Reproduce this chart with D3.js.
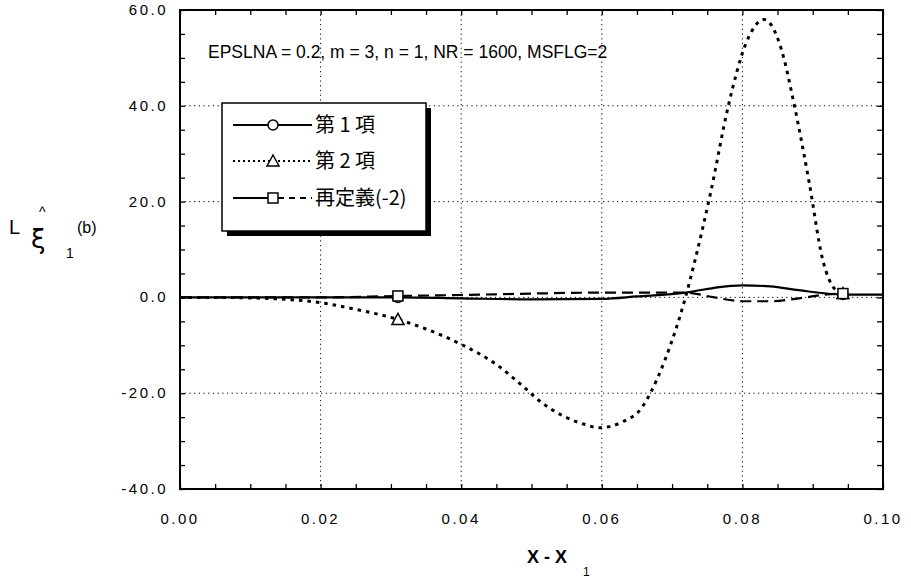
<!DOCTYPE html>
<html>
<head>
<meta charset="utf-8">
<script src="https://cdn.jsdelivr.net/npm/d3@7"></script>
<style>
  body { margin: 0; background: #fff; }
  svg { display: block; }
  text { fill: #000; }
</style>
</head>
<body>
<div id="graph"></div>
<script>

//----------------------------------------------------------
// data

var g_title = "EPSLNA = 0.2, m = 3, n = 1, NR = 1600, MSFLG=2";

var g_x_ticks = [0.00, 0.02, 0.04, 0.06, 0.08, 0.10];
var g_y_ticks = [-40, -20, 0, 20, 40, 60];

// x positions that carry a marker
var g_marker_x = [0.031, 0.0943];

// 第1項 (solid, circle)
var g_term1_x = [0, 0.02, 0.031, 0.04, 0.05, 0.06, 0.065, 0.0719, 0.076, 0.080, 0.084, 0.088, 0.0943, 0.1];
var g_term1_y = [0, 0, 0, -0.2, -0.4, -0.3, 0.2, 1.0, 2.0, 2.5, 2.3, 1.5, 0.6, 0.6];

// 第2項 (dotted, triangle)
var g_term2_x = [0, 0.005, 0.01, 0.015, 0.02, 0.025, 0.031, 0.035, 0.04, 0.045, 0.0486, 0.0514, 0.0543,
                 0.0571, 0.0597, 0.0629, 0.0657, 0.0669, 0.069, 0.0719, 0.0733, 0.0755, 0.078, 0.0805,
                 0.0831, 0.0855, 0.0874, 0.0895, 0.0914, 0.0933, 0.0943];
var g_term2_y = [0, 0, -0.1, -0.4, -1.1, -2.5, -4.6, -6.6, -9.8, -14, -18.3, -21.9, -24.6,
                 -26.3, -27.2, -26, -23, -20, -13, 0, 8, 22, 40, 53,
                 58, 52, 40, 24, 8, 1.5, 0.8];

// 再定義(-2) (long dash, square)
var g_redef_x = [0, 0.02, 0.031, 0.04, 0.05, 0.06, 0.0719, 0.076, 0.080, 0.084, 0.088, 0.092, 0.0943];
var g_redef_y = [0, 0, 0.3, 0.5, 0.8, 1.0, 1.0, 0.0, -0.8, -0.8, -0.2, 0.6, 0.8];


//----------------------------------------------------------
var g_width = 911, g_height = 579;

var g_svg = d3.select("#graph")
  .append("svg")
    .attr("width", g_width)
    .attr("height", g_height);

var g_x = d3.scaleLinear().domain([0, 0.1]).range([180, 883]);
var g_y = d3.scaleLinear().domain([-40, 60]).range([489, 10]);

var g_font = "'Liberation Sans', Arial, sans-serif";
var g_cjk = "'Noto Sans CJK JP', sans-serif";


function Zip(xs, ys) {
    return xs.map(function (x, i) { return [x, ys[i]]; });
}

function MarkerPoints(xs, ys) {
    return g_marker_x.map(function (mx) {
        var i = xs.indexOf(mx);
        return [mx, ys[i]];
    });
}

// plain hyphen for negatives, as on the original
function Fmt(spec) {
    var f = d3.format(spec);
    return function (d) { return f(d).replace("\u2212", "-"); };
}


//----------------------------------------------------------
// grid lines (dotted)
function DrawGrid() {
    var grid = g_svg.append("g")
        .attr("stroke", "#000")
        .attr("stroke-width", 1)
        .attr("stroke-dasharray", "1.2,3.5");

    grid.selectAll("line.gx")
      .data(g_x_ticks.slice(1, -1))
      .join("line")
        .attr("class", "gx")
        .attr("x1", function (d) { return g_x(d); })
        .attr("x2", function (d) { return g_x(d); })
        .attr("y1", g_y(60))
        .attr("y2", g_y(-40));

    grid.selectAll("line.gy")
      .data(g_y_ticks.slice(1, -1))
      .join("line")
        .attr("class", "gy")
        .attr("x1", g_x(0))
        .attr("x2", g_x(0.1))
        .attr("y1", function (d) { return g_y(d); })
        .attr("y2", function (d) { return g_y(d); });
}


//----------------------------------------------------------
// frame with inward ticks on all four sides
function DrawAxes() {
    var x_minor = d3.range(0, 21).map(function (i) { return i * 0.005; });
    var y_minor = d3.range(-40, 61, 5);

    var bottom = g_svg.append("g")
        .attr("transform", "translate(0," + g_y(-40) + ")")
        .call(d3.axisBottom(g_x).tickValues(x_minor).tickSize(-5).tickFormat(""));
    var top = g_svg.append("g")
        .attr("transform", "translate(0," + g_y(60) + ")")
        .call(d3.axisTop(g_x).tickValues(x_minor).tickSize(-5).tickFormat(""));
    var left = g_svg.append("g")
        .attr("transform", "translate(" + g_x(0) + ",0)")
        .call(d3.axisLeft(g_y).tickValues(y_minor).tickSize(-5).tickFormat(""));
    var right = g_svg.append("g")
        .attr("transform", "translate(" + g_x(0.1) + ",0)")
        .call(d3.axisRight(g_y).tickValues(y_minor).tickSize(-6).tickFormat(""));

    [bottom, top, left, right].forEach(function (a) {
        a.select(".domain").remove();
        a.selectAll("line").attr("stroke", "#000").attr("stroke-width", 1.3);
    });

    // tick labels
    var fx = Fmt(".2f"), fy = Fmt(".1f");

    g_svg.append("g")
      .selectAll("text")
      .data(g_x_ticks)
      .join("text")
        .attr("x", function (d) { return g_x(d); })
        .attr("y", 524)
        .attr("text-anchor", "middle")
        .attr("font-family", g_font)
        .attr("font-size", 15)
        .attr("letter-spacing", 2.5)
        .text(fx);

    g_svg.append("g")
      .selectAll("text")
      .data(g_y_ticks)
      .join("text")
        .attr("x", 168)
        .attr("y", function (d) { return g_y(d) + 5; })
        .attr("text-anchor", "end")
        .attr("font-family", g_font)
        .attr("font-size", 15)
        .attr("letter-spacing", 2.5)
        .text(fy);

    g_svg.append("rect")
        .attr("x", g_x(0))
        .attr("y", g_y(60))
        .attr("width", g_x(0.1) - g_x(0))
        .attr("height", g_y(-40) - g_y(60))
        .attr("fill", "none")
        .attr("stroke", "#000")
        .attr("stroke-width", 2);
}


//----------------------------------------------------------
function DrawMarker(g, kind, px, py) {
    if (kind == "circle") {
        g.append("circle")
            .attr("cx", px).attr("cy", py).attr("r", 5)
            .attr("fill", "#fff").attr("stroke", "#000").attr("stroke-width", 1.5);
    } else if (kind == "triangle") {
        g.append("path")
            .attr("d", "M" + px + "," + (py - 6) + "L" + (px + 6) + "," + (py + 5) + "L" + (px - 6) + "," + (py + 5) + "Z")
            .attr("fill", "#fff").attr("stroke", "#000").attr("stroke-width", 1.5);
    } else {
        g.append("rect")
            .attr("x", px - 5).attr("y", py - 5).attr("width", 10).attr("height", 10)
            .attr("fill", "#fff").attr("stroke", "#000").attr("stroke-width", 1.5);
    }
}

var g_series = [
    { name: "第 1 項", xs: g_term1_x, ys: g_term1_y, dash: null, width: 2.2, marker: "circle" },
    { name: "第 2 項", xs: g_term2_x, ys: g_term2_y, dash: "3.5,5", width: 3, marker: "triangle" },
    { name: "再定義(-2)", xs: g_redef_x, ys: g_redef_y, dash: "11,6", width: 2.2, marker: "square" }
];

function DrawSeries() {
    var line = d3.line()
        .x(function (d) { return g_x(d[0]); })
        .y(function (d) { return g_y(d[1]); })
        .curve(d3.curveMonotoneX);

    var plot = g_svg.append("g");

    g_series.forEach(function (s) {
        plot.append("path")
            .datum(Zip(s.xs, s.ys))
            .attr("d", line)
            .attr("fill", "none")
            .attr("stroke", "#000")
            .attr("stroke-width", s.width)
            .attr("stroke-dasharray", s.dash);
    });

    g_series.forEach(function (s) {
        MarkerPoints(s.xs, s.ys).forEach(function (p) {
            DrawMarker(plot, s.marker, g_x(p[0]), g_y(p[1]));
        });
    });
}


//----------------------------------------------------------
function DrawLegend() {
    var lx = 222, ly = 103, lw = 204, lh = 128;
    var legend = g_svg.append("g");

    legend.append("rect")
        .attr("x", lx + 5).attr("y", ly + 5).attr("width", lw).attr("height", lh)
        .attr("fill", "#000");
    legend.append("rect")
        .attr("x", lx).attr("y", ly).attr("width", lw).attr("height", lh)
        .attr("fill", "#fff").attr("stroke", "#000").attr("stroke-width", 1.5);

    var rows = [125, 161, 198];
    g_series.forEach(function (s, i) {
        var y = rows[i];
        if (s.marker == "square") {
            legend.append("line")
                .attr("x1", 233).attr("x2", 268).attr("y1", y).attr("y2", y)
                .attr("stroke", "#000").attr("stroke-width", 2.2);
            legend.append("line")
                .attr("x1", 278).attr("x2", 312).attr("y1", y).attr("y2", y)
                .attr("stroke", "#000").attr("stroke-width", 2)
                .attr("stroke-dasharray", "6,5");
        } else {
            legend.append("line")
                .attr("x1", 233).attr("x2", 312).attr("y1", y).attr("y2", y)
                .attr("stroke", "#000")
                .attr("stroke-width", s.marker == "triangle" ? 2 : 2.2)
                .attr("stroke-dasharray", s.marker == "triangle" ? "2,3" : null);
        }
        DrawMarker(legend, s.marker, 273, y);
        legend.append("text")
            .attr("x", 315)
            .attr("y", y + 7)
            .attr("font-family", g_cjk)
            .attr("font-size", 20)
            .text(s.name);
    });
}


//----------------------------------------------------------
function DrawLabels() {
    g_svg.append("text")
        .attr("x", 208)
        .attr("y", 58)
        .attr("font-family", g_font)
        .attr("font-size", 17.5)
        .text(g_title);

    // y axis label: L ξ^ 1 (b)
    var yl = g_svg.append("g").attr("font-family", g_font);
    yl.append("text").attr("x", 9).attr("y", 234).attr("font-size", 20).text("L");
    yl.append("text").attr("x", 31).attr("y", 248).attr("font-family", "'DejaVu Sans', sans-serif")
        .attr("font-size", 26).text("ξ");
    yl.append("text").attr("x", 39).attr("y", 217).attr("font-size", 14).text("^");
    yl.append("text").attr("x", 66).attr("y", 258).attr("font-size", 14).text("1");
    yl.append("text").attr("x", 77).attr("y", 233).attr("font-size", 16).text("(b)");

    // x axis label
    var xl = g_svg.append("g").attr("font-family", g_font).attr("font-weight", "bold");
    xl.append("text").attr("x", 527).attr("y", 563).attr("font-size", 18).text("X - X");
    xl.append("text").attr("x", 583).attr("y", 576).attr("font-size", 12).attr("font-weight", "normal").text("1");
}


//----------------------------------------------------------
DrawGrid();
DrawSeries();
DrawAxes();
DrawLegend();
DrawLabels();

</script>
</body>
</html>
